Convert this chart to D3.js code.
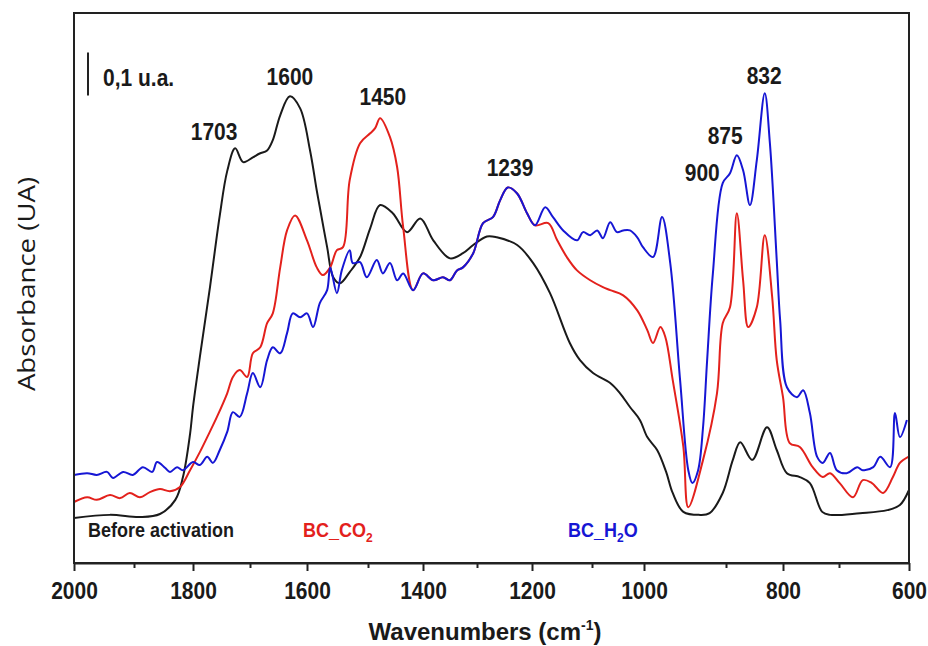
<!DOCTYPE html>
<html>
<head>
<meta charset="utf-8">
<script src="https://cdn.jsdelivr.net/npm/d3@7"></script>
<style>
  body { margin: 0; background: #fff; }
  text { font-family: "Liberation Sans", Arial, sans-serif; }
</style>
</head>
<body>
<svg id="chart"></svg>
<script>

// ---- data (absorbance in u.a.) ----
let majorTicks = [2000, 1800, 1600, 1400, 1200, 1000, 800, 600]
let minorTicks = [1900, 1700, 1500, 1300, 1100, 900, 700]

let beforeActivation = [
    [2000,0.105],[1940,0.112],[1890,0.107],[1856,0.114],[1830,0.147],[1817,0.200],[1805,0.300],
    [1800,0.363],[1788,0.479],[1770,0.644],[1753,0.809],[1740,0.912],[1726,0.965],[1712,0.933],
    [1695,0.944],[1683,0.953],[1670,0.960],[1660,0.984],[1647,1.042],[1630,1.086],[1612,1.058],
    [1595,0.960],[1584,0.867],[1579,0.828],[1567,0.735],[1557,0.665],[1546,0.651],[1530,0.677],
    [1513,0.712],[1496,0.779],[1478,0.833],[1455,0.814],[1429,0.770],[1405,0.802],[1381,0.751],
    [1350,0.709],[1326,0.721],[1307,0.740],[1282,0.760],[1264,0.758],[1227,0.740],[1198,0.698],
    [1170,0.628],[1137,0.512],[1120,0.472],[1098,0.442],[1065,0.419],[1046,0.395],[1027,0.363],
    [1008,0.333],[996,0.293],[984,0.263],[973,0.212],[965,0.163],[952,0.119],[932,0.112],
    [920,0.116],[904,0.163],[888,0.240],[875,0.281],[854,0.240],[828,0.316],[811,0.263],
    [793,0.209],[770,0.200],[752,0.186],[730,0.119],[716,0.112],[670,0.116],[631,0.123],
    [613,0.135],[600,0.170]
]

let bcCO2 = [
    [2000,0.142],[1978,0.153],[1962,0.147],[1940,0.158],[1923,0.151],[1907,0.163],[1890,0.153],
    [1873,0.165],[1856,0.172],[1839,0.167],[1822,0.177],[1805,0.216],[1788,0.258],[1775,0.293],
    [1758,0.340],[1740,0.395],[1730,0.433],[1718,0.449],[1705,0.433],[1695,0.488],[1682,0.502],
    [1670,0.558],[1660,0.581],[1647,0.688],[1635,0.774],[1621,0.809],[1600,0.751],[1584,0.688],
    [1574,0.670],[1562,0.688],[1551,0.728],[1541,0.735],[1530,0.891],[1513,0.977],[1496,1.000],
    [1487,1.012],[1478,1.035],[1460,0.991],[1447,0.921],[1436,0.781],[1418,0.635],[1400,0.674],
    [1381,0.658],[1363,0.665],[1350,0.658],[1337,0.681],[1326,0.688],[1307,0.721],[1289,0.791],
    [1271,0.805],[1258,0.844],[1244,0.874],[1227,0.860],[1209,0.814],[1195,0.786],[1173,0.791],
    [1158,0.751],[1142,0.712],[1125,0.681],[1103,0.658],[1079,0.642],[1065,0.635],[1040,0.623],
    [1013,0.588],[996,0.542],[989,0.512],[980,0.549],[974,0.526],[965,0.426],[952,0.270],
    [946,0.130],[928,0.240],[911,0.395],[904,0.558],[893,0.595],[881,0.814],[870,0.658],
    [861,0.549],[846,0.595],[832,0.763],[819,0.619],[811,0.472],[800,0.386],[788,0.279],
    [770,0.270],[747,0.223],[729,0.200],[716,0.209],[699,0.186],[680,0.153],[666,0.193],
    [653,0.186],[637,0.163],[623,0.200],[613,0.233],[601,0.247]
]

let bcH2O = [
    [2000,0.205],[1978,0.209],[1962,0.205],[1945,0.212],[1935,0.198],[1918,0.212],[1902,0.205],
    [1885,0.223],[1869,0.212],[1861,0.235],[1847,0.221],[1839,0.212],[1827,0.223],[1817,0.216],
    [1800,0.235],[1788,0.228],[1775,0.247],[1765,0.233],[1753,0.263],[1740,0.305],[1730,0.351],
    [1718,0.340],[1705,0.395],[1695,0.442],[1682,0.409],[1670,0.472],[1660,0.502],[1647,0.488],
    [1635,0.535],[1625,0.581],[1612,0.572],[1600,0.581],[1590,0.549],[1579,0.605],[1567,0.635],
    [1562,0.688],[1551,0.628],[1543,0.681],[1530,0.728],[1525,0.698],[1513,0.700],[1502,0.665],
    [1484,0.705],[1473,0.674],[1460,0.698],[1447,0.658],[1436,0.674],[1418,0.635],[1400,0.674],
    [1381,0.658],[1363,0.665],[1350,0.658],[1337,0.681],[1326,0.688],[1307,0.721],[1289,0.791],
    [1271,0.805],[1258,0.844],[1244,0.874],[1227,0.860],[1209,0.814],[1195,0.786],[1178,0.828],
    [1165,0.805],[1148,0.774],[1125,0.751],[1115,0.770],[1103,0.763],[1090,0.774],[1079,0.756],
    [1065,0.793],[1052,0.770],[1040,0.774],[1027,0.774],[1013,0.758],[1002,0.735],[989,0.712],
    [978,0.805],[968,0.698],[956,0.426],[946,0.216],[941,0.186],[934,0.216],[928,0.316],
    [923,0.472],[916,0.674],[904,0.884],[893,0.907],[881,0.949],[870,0.914],[858,0.833],
    [846,0.937],[832,1.093],[823,0.977],[811,0.705],[805,0.565],[793,0.409],[775,0.386],
    [764,0.402],[752,0.349],[739,0.247],[729,0.233],[716,0.256],[704,0.216],[689,0.209],
    [674,0.223],[666,0.216],[651,0.223],[641,0.247],[627,0.223],[620,0.349],[613,0.293],
    [603,0.333]
]

let seriesNames = ["Before activation", "BC_CO2", "BC_H2O"]
let seriesColors = ["#1a1a1a", "#e3211c", "#1616d4"]

// peak annotations: label, wavenumber and absorbance of the label anchor
let peakLabels = ["1703", "1600", "1450", "1239", "900", "875", "832"]
let peakWn = [1763, 1630, 1473, 1240, 929, 901, 833]
let peakAbs = [0.984, 1.112, 1.065, 0.900, 0.888, 0.974, 1.114]

// ---- layout ----
let W = 928, H = 646
let marginLeft = 74, marginTop = 13
let plotW = 835, plotH = 550
let stretch = 1.13   // the original figure's lettering is a bit tall

let svg = d3.select("#chart").attr("width", W).attr("height", H)
let g = svg.append("g").attr("transform", "translate(" + marginLeft + "," + marginTop + ")")

// the printed wavenumber axis is not evenly spaced, so calibrate it piecewise
let axisBreaks = d3.range(2000, 599, -100)
let breakPx = [0, 60, 119, 176, 233, 294, 349, 403, 458, 518, 570, 652, 709, 765, 835]
let x = d3.scaleLinear().domain(axisBreaks).range(breakPx)
let y = d3.scaleLinear().domain([0, 1.28]).range([plotH, 0])

function tallText(sel, px, py) {
    return sel.append("text")
        .attr("transform", "translate(" + px + "," + py + ") scale(1," + stretch + ")")
}

g.append("clipPath").attr("id", "clip")
    .append("rect").attr("width", plotW).attr("height", plotH)

let line = d3.line()
    .x(d => x(d[0]))
    .y(d => y(d[1]))
    .curve(d3.curveCatmullRom.alpha(0.5))

let curves = g.append("g").attr("clip-path", "url(#clip)")
;[beforeActivation, bcCO2, bcH2O].forEach((s, i) => {
    curves.append("path")
        .datum(s)
        .attr("d", line)
        .attr("fill", "none")
        .attr("stroke", seriesColors[i])
        .attr("stroke-width", 2)
        .attr("stroke-linejoin", "round")
})

// frame
g.append("rect")
    .attr("width", plotW).attr("height", plotH)
    .attr("fill", "none").attr("stroke", "#222").attr("stroke-width", 2)

// x axis
let xAxis = g.append("g")
    .attr("transform", "translate(0," + plotH + ")")
    .call(d3.axisBottom(x).tickValues(majorTicks).tickSize(8).tickSizeOuter(0)
        .tickPadding(9).tickFormat(d3.format("d")))
xAxis.select(".domain").attr("stroke", "#222").attr("stroke-width", 2)
xAxis.selectAll(".tick line").attr("stroke", "#222").attr("stroke-width", 2)
xAxis.selectAll("text")
    .attr("transform", "scale(1," + stretch + ")")
    .attr("font-family", "Liberation Sans, Arial, sans-serif")
    .attr("font-size", 21).attr("font-weight", "bold").attr("fill", "#1a1a1a")

let xMinor = g.append("g")
    .attr("transform", "translate(0," + plotH + ")")
    .call(d3.axisBottom(x).tickValues(minorTicks).tickSize(5).tickSizeOuter(0).tickFormat(""))
xMinor.select(".domain").remove()
xMinor.selectAll(".tick line").attr("stroke", "#222").attr("stroke-width", 2)

// axis titles
let xTitle = svg.append("text")
    .attr("x", 485).attr("y", 640)
    .attr("text-anchor", "middle")
    .attr("font-size", 24).attr("font-weight", "bold").attr("fill", "#1a1a1a")
xTitle.append("tspan").text("Wavenumbers (cm")
xTitle.append("tspan").text("-1").attr("font-size", 14).attr("dy", -10)
xTitle.append("tspan").text(")").attr("dy", 10)

svg.append("text")
    .attr("transform", "translate(35,284) rotate(-90) scale(1.2,1)")
    .attr("text-anchor", "middle")
    .style("font-family", "'Open Sans', sans-serif")
    .attr("font-size", 23).attr("fill", "#1a1a1a")
    .text("Absorbance (UA)")

// scale bar
let barTop = 1.188, barLen = 0.1
g.append("line")
    .attr("x1", 14).attr("x2", 14)
    .attr("y1", y(barTop)).attr("y2", y(barTop - barLen))
    .attr("stroke", "#222").attr("stroke-width", 2)
tallText(g, 29, y(barTop) + 33)
    .attr("font-size", 21).attr("font-weight", "bold").attr("fill", "#1a1a1a")
    .text("0,1 u.a.")

// peak labels
peakLabels.forEach((lab, i) => {
    tallText(g, x(peakWn[i]), y(peakAbs[i]))
        .attr("class", "peak")
        .attr("text-anchor", "middle")
        .attr("font-size", 21).attr("font-weight", "bold").attr("fill", "#1a1a1a")
        .text(lab)
})

// series labels
let legendX = [14, 229, 494]
seriesNames.forEach((name, i) => {
    let t = tallText(g, legendX[i], 524)
        .attr("font-size", 18).attr("font-weight", "bold").attr("fill", seriesColors[i])
    let m = name.match(/^(.*?)(\d)(.*)$/)
    if (m) {
        t.append("tspan").text(m[1])
        t.append("tspan").text(m[2]).attr("font-size", 12).attr("dy", 4)
        t.append("tspan").text(m[3]).attr("dy", -4)
    } else {
        t.text(name)
    }
})

</script>
</body>
</html>
